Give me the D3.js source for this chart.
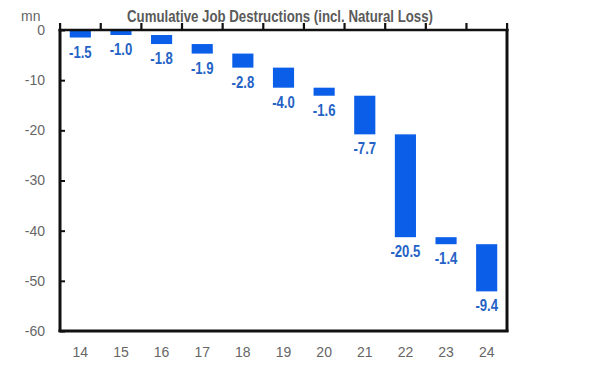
<!DOCTYPE html>
<html><head><meta charset="utf-8">
<script src="https://cdn.jsdelivr.net/npm/d3@7"></script>
<style>
html,body{margin:0;padding:0;background:#fff;}
svg{display:block;}
</style></head>
<body>
<svg id="c" width="606" height="369"></svg>
<script>
const categories = ["14","15","16","17","18","19","20","21","22","23","24"];
const changes = [-1.5,-1.0,-1.8,-1.9,-2.8,-4.0,-1.6,-7.7,-20.5,-1.4,-9.4];
const valueLabels = ["-1.5","-1.0","-1.8","-1.9","-2.8","-4.0","-1.6","-7.7","-20.5","-1.4","-9.4"];
// the running total starts at the second category ("15"); "14" stands alone from 0
const cumulativeFrom = 1;
const yTicks = [0,-10,-20,-30,-40,-50,-60];
const title = "Cumulative Job Destructions (incl. Natural Loss)";
const unit = "mn";

const svg = d3.select("#c");
const L = 60, R = 507, T = 30, B = 331;
const x = d3.scaleBand().domain(categories).range([L, R]).paddingInner(0.48).paddingOuter(0.24);
const y = d3.scaleLinear().domain([-60, 0]).range([B, T]);

let run = 0;
const bars = categories.map((c, i) => {
  const start = i < cumulativeFrom ? 0 : run;
  const end = start + changes[i];
  if (i >= cumulativeFrom) run = end;
  return {c, start, end, label: valueLabels[i]};
});

const grey = "#666";
const barColor = "#0A5EE8";
const labelColor = "#2462C6";
const ink = "#111";

// bars
svg.append("g").selectAll("rect").data(bars).join("rect")
  .attr("x", d => x(d.c))
  .attr("width", x.bandwidth())
  .attr("y", d => y(Math.max(d.start, d.end)))
  .attr("height", d => y(Math.min(d.start, d.end)) - y(Math.max(d.start, d.end)))
  .attr("fill", barColor);

// value labels (condensed)
svg.append("g").selectAll("text").data(bars).join("text")
  .attr("transform", d => `translate(${x(d.c) + x.bandwidth()/2},${y(Math.min(d.start, d.end)) + 20}) scale(0.82,1)`)
  .attr("text-anchor", "middle")
  .attr("font-family", "'Liberation Sans',Arial,sans-serif")
  .attr("font-weight", "bold")
  .attr("font-size", 16)
  .attr("fill", labelColor)
  .text(d => d.label);

// frame as filled rects
const fr = svg.append("g").attr("fill", ink);
fr.append("rect").attr("x", L - 1.5).attr("y", T - 1).attr("width", 3).attr("height", B - T + 2);      // left
fr.append("rect").attr("x", L - 1.5).attr("y", B - 1.5).attr("width", R - L + 3).attr("height", 3);    // bottom
fr.append("rect").attr("x", R - 1.5).attr("y", T - 1).attr("width", 3).attr("height", B - T + 2);      // right
fr.append("rect").attr("x", L - 1.5).attr("y", y(0) - 1.25).attr("width", R - L + 3).attr("height", 2.5); // zero line

// top ticks at category boundaries
const off = (x.step() - x.bandwidth()) / 2;
const bounds = categories.map(c => x(c) - off).concat([x(categories[categories.length-1]) + x.bandwidth() + off]);
fr.append("g").selectAll("rect").data(bounds).join("rect")
  .attr("x", d => d - 1).attr("width", 2.2)
  .attr("y", y(0) - 7).attr("height", 7);

// y axis
const yAxis = svg.append("g").attr("transform", `translate(${L},0)`)
  .call(d3.axisRight(y).tickValues(yTicks).tickSize(5).tickFormat(d3.format("d")));
yAxis.select(".domain").remove();
yAxis.selectAll(".tick line").attr("stroke", ink).attr("stroke-width", 2);
yAxis.selectAll(".tick text")
  .attr("x", -15).attr("text-anchor", "end")
  .attr("font-family", "'Liberation Sans',Arial,sans-serif")
  .attr("font-size", 14).attr("fill", grey)
  .text(d => String(d));

// x axis labels
const xAxis = svg.append("g").attr("transform", `translate(0,${B})`)
  .call(d3.axisBottom(x).tickSize(0).tickPadding(16));
xAxis.select(".domain").remove();
xAxis.selectAll(".tick text")
  .attr("font-family", "'Liberation Sans',Arial,sans-serif")
  .attr("font-size", 14).attr("fill", grey);

// unit
svg.append("text").attr("x", 21).attr("y", 21)
  .attr("font-family", "'Liberation Sans',Arial,sans-serif")
  .attr("font-size", 14).attr("fill", grey).text(unit);

// title
svg.append("text").attr("x", 280).attr("y", 22).attr("text-anchor", "middle")
  .attr("font-family", "'Liberation Sans',Arial,sans-serif")
  .attr("font-weight", "bold").attr("font-size", 16).attr("fill", "#5a5a5a")
  .attr("textLength", 306).attr("lengthAdjust", "spacingAndGlyphs")
  .text(title);
</script>
</body></html>
